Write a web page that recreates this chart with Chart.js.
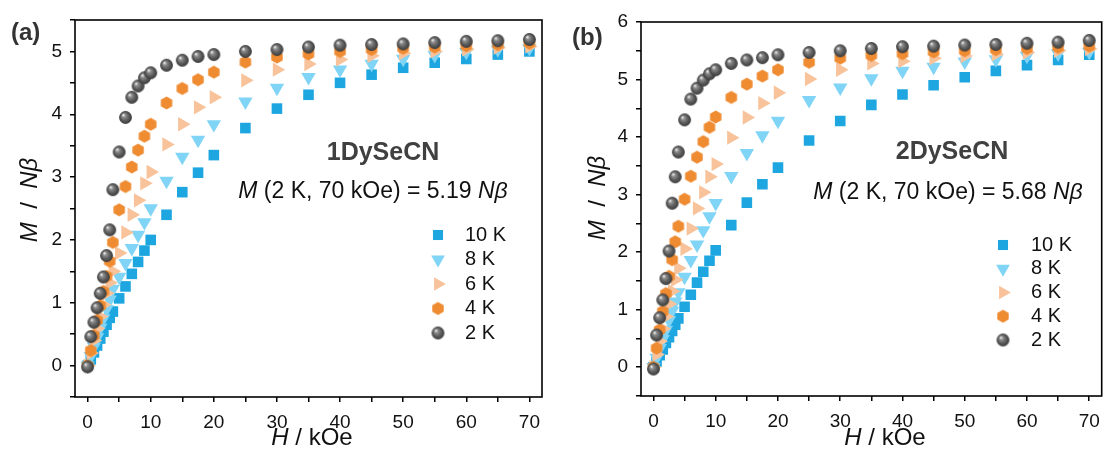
<!DOCTYPE html>
<html>
<head>
<meta charset="utf-8">
<script src="https://cdn.jsdelivr.net/npm/chart.js@4.4.1/dist/chart.umd.min.js"></script>
<style>
  html, body { margin: 0; padding: 0; background: #fff; }
  #wrap { position: relative; width: 1110px; height: 456px; }
  .panel { position: absolute; top: 0; width: 555px; height: 456px; }
</style>
</head>
<body>
<div id="wrap">
  <div class="panel" style="left:0"><canvas id="chartA"></canvas></div>
  <div class="panel" style="left:555px"><canvas id="chartB"></canvas></div>
</div>
<script>
// field steps used for both samples (kOe)
const fieldKOe = [0, 0.5, 1, 1.5, 2, 2.5, 3, 3.5, 4, 5, 6, 7, 8, 9, 10, 12.5, 15, 17.5, 20,
  25, 30, 35, 40, 45, 50, 55, 60, 65, 70];

const seriesNames = ['10 K', '8 K', '6 K', '4 K', '2 K'];

// 1DySeCN, M / Nbeta
const dy1_10K = [0, 0.10, 0.21, 0.32, 0.43, 0.54, 0.65, 0.76, 0.86, 1.07, 1.26, 1.46, 1.65, 1.83, 2.00,
  2.40, 2.76, 3.07, 3.35, 3.78, 4.09, 4.31, 4.50, 4.63, 4.74, 4.82, 4.88, 4.95, 5.00];
const dy1_8K = [0, 0.15, 0.30, 0.45, 0.60, 0.75, 0.90, 1.05, 1.22, 1.41, 1.63, 1.87, 2.08, 2.28, 2.50,
  2.94, 3.32, 3.59, 3.84, 4.20, 4.42, 4.59, 4.71, 4.80, 4.88, 4.94, 4.99, 5.03, 5.05];
const dy1_6K = [0, 0.20, 0.40, 0.59, 0.78, 0.97, 1.15, 1.32, 1.50, 1.79, 2.12, 2.40, 2.63, 2.90, 3.08,
  3.52, 3.84, 4.11, 4.27, 4.54, 4.71, 4.80, 4.87, 4.93, 4.97, 5.00, 5.03, 5.06, 5.08];
const dy1_4K = [0, 0.24, 0.48, 0.72, 0.95, 1.18, 1.42, 1.66, 1.96, 2.48, 2.85, 3.16, 3.43, 3.65, 3.84,
  4.18, 4.41, 4.55, 4.67, 4.83, 4.91, 4.96, 5.00, 5.03, 5.05, 5.07, 5.09, 5.11, 5.13];
const dy1_2K = [-0.02, 0.46, 0.69, 0.92, 1.15, 1.41, 1.75, 2.16, 2.80, 3.40, 3.95, 4.27, 4.45, 4.58, 4.66,
  4.78, 4.86, 4.92, 4.95, 5.00, 5.03, 5.07, 5.10, 5.11, 5.12, 5.14, 5.16, 5.17, 5.19];

// 2DySeCN, M / Nbeta
const dy2_10K = [0, 0.10, 0.21, 0.31, 0.42, 0.52, 0.63, 0.74, 0.85, 1.05, 1.26, 1.47, 1.66, 1.85, 2.03,
  2.47, 2.86, 3.18, 3.47, 3.94, 4.28, 4.56, 4.74, 4.90, 5.04, 5.15, 5.25, 5.34, 5.43];
const dy2_8K = [0, 0.16, 0.33, 0.49, 0.65, 0.82, 0.98, 1.14, 1.30, 1.57, 1.86, 2.13, 2.38, 2.62, 2.85,
  3.32, 3.72, 4.03, 4.28, 4.64, 4.86, 5.02, 5.15, 5.22, 5.31, 5.35, 5.41, 5.45, 5.48];
const dy2_6K = [0, 0.22, 0.45, 0.67, 0.88, 1.10, 1.32, 1.52, 1.72, 2.06, 2.41, 2.76, 3.04, 3.31, 3.53,
  3.99, 4.34, 4.59, 4.77, 5.01, 5.17, 5.28, 5.32, 5.37, 5.41, 5.44, 5.47, 5.50, 5.53];
const dy2_4K = [0, 0.33, 0.65, 0.97, 1.28, 1.58, 1.87, 2.18, 2.45, 2.92, 3.32, 3.65, 3.92, 4.17, 4.35,
  4.69, 4.92, 5.06, 5.17, 5.30, 5.37, 5.42, 5.45, 5.48, 5.50, 5.52, 5.54, 5.56, 5.58];
const dy2_2K = [-0.03, 0.56, 0.86, 1.17, 1.54, 2.02, 2.85, 3.31, 3.74, 4.30, 4.66, 4.85, 4.99, 5.10, 5.17,
  5.28, 5.34, 5.38, 5.43, 5.47, 5.50, 5.54, 5.57, 5.58, 5.60, 5.61, 5.63, 5.65, 5.68];

const xTickValues = [0, 5, 10, 15, 20, 25, 30, 35, 40, 45, 50, 55, 60, 65, 70];
const yTickValuesA = [-0.5, 0, 0.5, 1, 1.5, 2, 2.5, 3, 3.5, 4, 4.5, 5, 5.5];
const yTickValuesB = [-0.5, 0, 0.5, 1, 1.5, 2, 2.5, 3, 3.5, 4, 4.5, 5, 5.5, 6];

const FONT = '"Liberation Sans", Arial, sans-serif';

function makeSphere(r) {
  const s = Math.ceil(r * 2 + 2);
  const c = document.createElement('canvas');
  c.width = s; c.height = s;
  const g = c.getContext('2d');
  const cx = s / 2, cy = s / 2;
  const grad = g.createRadialGradient(cx - r * 0.35, cy - r * 0.4, r * 0.05, cx, cy, r);
  grad.addColorStop(0, '#f2f2f2');
  grad.addColorStop(0.25, '#8e8e8e');
  grad.addColorStop(0.65, '#5a5a5a');
  grad.addColorStop(1, '#3b3b3b');
  g.fillStyle = grad;
  g.beginPath();
  g.arc(cx, cy, r, 0, Math.PI * 2);
  g.fill();
  return c;
}

function makeHexagon(r, color) {
  const s = Math.ceil(r * 2 + 2);
  const c = document.createElement('canvas');
  c.width = s; c.height = s;
  const g = c.getContext('2d');
  g.fillStyle = color;
  g.beginPath();
  for (let i = 0; i < 6; i++) {
    const a = Math.PI / 2 + i * Math.PI / 3;
    const px = s / 2 + r * Math.cos(a), py = s / 2 + r * Math.sin(a);
    if (i === 0) g.moveTo(px, py); else g.lineTo(px, py);
  }
  g.closePath();
  g.fill();
  return c;
}

const hexImg = makeHexagon(6.6, '#ef8b31');
const sphereImg = makeSphere(6.4);

const markers = [
  { color: '#1ea6e0', style: 'rect', rotation: 0, radius: 7.5 },
  { color: '#80d4f6', style: 'triangle', rotation: 180, radius: 8.3 },
  { color: '#f8c39b', style: 'triangle', rotation: 90, radius: 8.3 },
  { color: '#ef8b31', style: hexImg, rotation: 0, radius: 7 },
  { color: '#555555', style: sphereImg, rotation: 0, radius: 7 },
];

function buildDatasets(seriesList) {
  return seriesList.map((vals, i) => ({
    label: seriesNames[i],
    data: fieldKOe.map((h, j) => ({ x: h, y: vals[j] })),
    showLine: false,
    order: seriesList.length - 1 - i,
    pointStyle: markers[i].style,
    pointRotation: markers[i].rotation,
    pointRadius: markers[i].radius,
    pointHoverRadius: markers[i].radius,
    pointBackgroundColor: markers[i].color,
    pointBorderColor: markers[i].color,
    pointBorderWidth: 0,
  }));
}

function richText(ctx, parts, x, y, size) {
  let total = 0;
  const fonts = parts.map(p => (p[1] ? 'italic ' : '') + size + 'px ' + FONT);
  parts.forEach((p, i) => { ctx.font = fonts[i]; total += ctx.measureText(p[0]).width; });
  let cx = x - total / 2;
  parts.forEach((p, i) => {
    ctx.font = fonts[i];
    ctx.fillText(p[0], cx, y);
    cx += ctx.measureText(p[0]).width;
  });
}

const decorPlugin = {
  id: 'decor',
  afterDraw(chart, args, o) {
    const ctx = chart.ctx;
    const a = chart.chartArea;
    ctx.save();
    // frame
    ctx.strokeStyle = '#000';
    ctx.lineWidth = 1.6;
    ctx.strokeRect(a.left, a.top, a.right - a.left, a.bottom - a.top);

    ctx.textBaseline = 'middle';
    ctx.textAlign = 'left';
    // panel tag
    ctx.fillStyle = '#333';
    ctx.font = 'bold 24px ' + FONT;
    ctx.fillText(o.tag, o.tagX, o.tagY);

    // sample name and formula
    ctx.fillStyle = '#404040';
    ctx.textAlign = 'center';
    ctx.font = 'bold 25px ' + FONT;
    ctx.fillText(o.name, o.nameX, o.nameY);
    ctx.fillStyle = '#111';
    ctx.textAlign = 'left';
    richText(ctx, [['M', true], [' (2 K, 70 kOe) = ' + o.msat + ' ', false], ['N\u03B2', true]], o.noteX, o.noteY, 23);

    // axis titles
    ctx.fillStyle = '#111';
    richText(ctx, [['H', true], [' / kOe', false]], o.xTitleX, o.xTitleY, 24);
    ctx.translate(o.yTitleX, o.yTitleY);
    ctx.rotate(-Math.PI / 2);
    richText(ctx, [['M', true], ['  /  ', false], ['N\u03B2', true]], 0, 0, 24);
    ctx.setTransform(1, 0, 0, 1, 0, 0);

    // legend
    ctx.font = '20px ' + FONT;
    chart.data.datasets.forEach((ds, i) => {
      const y = o.legY + i * o.legStep;
      ctx.fillStyle = markers[i].color;
      Chart.helpers.drawPoint(ctx, { pointStyle: markers[i].style, rotation: markers[i].rotation, radius: markers[i].radius * 0.95, borderWidth: 0 }, o.legX, y);
      ctx.fillStyle = '#111';
      ctx.fillText(ds.label, o.legTextX, y);
    });
    ctx.restore();
  }
};

function tickLabel(v) {
  return Math.abs(v - Math.round(v)) < 1e-6 ? String(Math.round(v)) : '';
}

function makeChart(id, seriesList, yMin, yMax, yTicks, geo, decor) {
  return new Chart(document.getElementById(id), {
    type: 'scatter',
    data: { datasets: buildDatasets(seriesList) },
    options: {
      responsive: true,
      maintainAspectRatio: false,
      animation: false,
      layout: { padding: { left: 0, top: geo.top, right: geo.right, bottom: 0 } },
      plugins: {
        legend: { display: false },
        tooltip: { enabled: false },
        decor: decor,
      },
      scales: {
        x: {
          type: 'linear', min: -2, max: 72,
          afterBuildTicks: s => { s.ticks = xTickValues.map(v => ({ value: v })); },
          afterFit: s => { s.height = geo.xH; s.paddingLeft = 0; s.paddingRight = 0; },
          ticks: {
            callback: v => (v % 10 === 0 ? String(v) : ''),
            font: { family: FONT, size: 19 }, color: '#111',
            padding: 9, maxRotation: 0, autoSkip: false,
          },
          grid: { drawOnChartArea: false, drawTicks: true, tickLength: 5, color: '#000', lineWidth: 1.5 },
          border: { display: false },
        },
        y: {
          type: 'linear', min: yMin, max: yMax,
          afterBuildTicks: s => { s.ticks = yTicks.map(v => ({ value: v })); },
          afterFit: s => { s.width = geo.yW; s.paddingTop = 0; s.paddingBottom = 0; },
          ticks: {
            callback: v => tickLabel(v),
            font: { family: FONT, size: 19 }, color: '#111',
            padding: 8, autoSkip: false,
          },
          grid: { drawOnChartArea: false, drawTicks: true, tickLength: 5, color: '#000', lineWidth: 1.5 },
          border: { display: false },
        },
      },
    },
    plugins: [decorPlugin],
  });
}

makeChart('chartA', [dy1_10K, dy1_8K, dy1_6K, dy1_4K, dy1_2K], -0.5, 5.5, yTickValuesA,
  { top: 20, right: 13, xH: 59, yW: 75 },
  { tag: '(a)', tagX: 11, tagY: 33,
    name: '1DySeCN', nameX: 383, nameY: 153, msat: '5.19', noteX: 373, noteY: 192,
    xTitleX: 312, xTitleY: 438, yTitleX: 30, yTitleY: 200,
    legX: 438, legTextX: 465, legY: 235, legStep: 24.5 });

makeChart('chartB', [dy2_10K, dy2_8K, dy2_6K, dy2_4K, dy2_2K], -0.5, 6, yTickValuesB,
  { top: 22, right: 3, xH: 60, yW: 86 },
  { tag: '(b)', tagX: 17, tagY: 38,
    name: '2DySeCN', nameX: 397, nameY: 152, msat: '5.68', noteX: 393, noteY: 193,
    xTitleX: 330, xTitleY: 438, yTitleX: 43, yTitleY: 198,
    legX: 448, legTextX: 476, legY: 245, legStep: 23.75 });
</script>
</body>
</html>
